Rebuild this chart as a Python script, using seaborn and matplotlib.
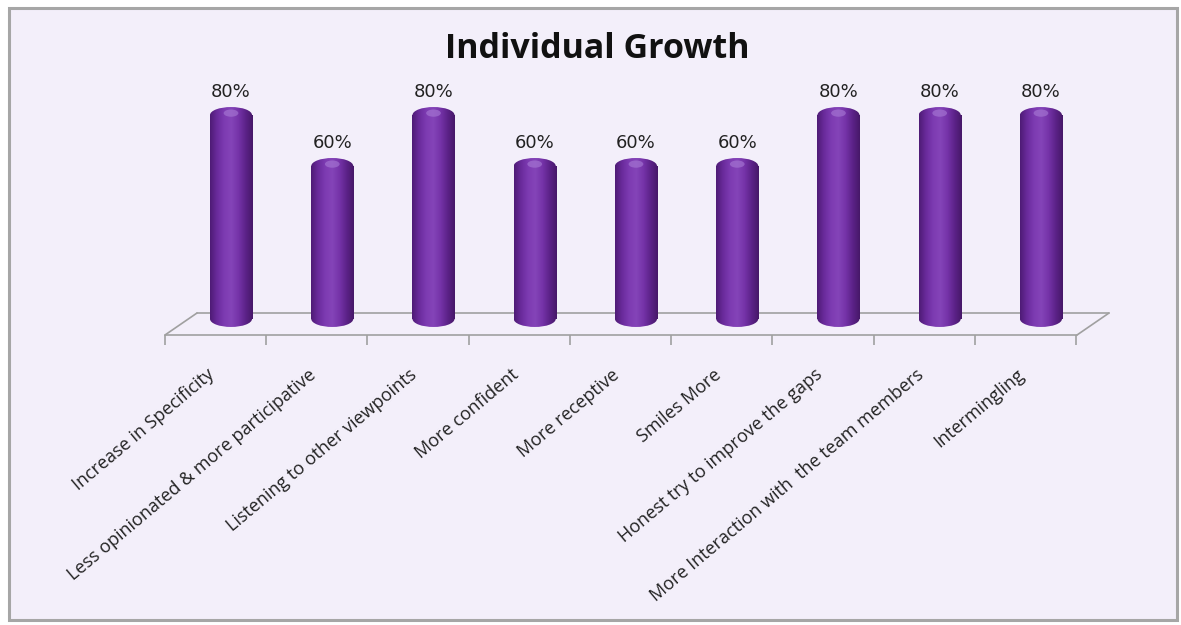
import numpy as np
import matplotlib
matplotlib.use("Agg")
import matplotlib.pyplot as plt
import seaborn as sns
from matplotlib.patches import Ellipse, Rectangle
from matplotlib.colors import LinearSegmentedColormap

categories = [
    "Increase in Specificity",
    "Less opinionated & more participative",
    "Listening to other viewpoints",
    "More confident",
    "More receptive",
    "Smiles More",
    "Honest try to improve the gaps",
    "More Interaction with  the team members",
    "Intermingling",
]
values = [80, 60, 80, 60, 60, 60, 80, 80, 80]
title = "Individual Growth"

sns.set_theme(style="white")
plt.rcParams['font.family'] = ['Open Sans', 'DejaVu Sans']

W, H = 1181, 625
fig = plt.figure(figsize=(W / 100, H / 100), dpi=100)
fig.patch.set_facecolor("white")

# chart area with border
fig.patches.append(Rectangle((8.5 / W, 1 - 620 / H), (1177 - 8.5) / W, (620 - 8) / H,
                             transform=fig.transFigure, facecolor="#F3EFFA",
                             edgecolor="#A6A6A6", linewidth=2.2, zorder=-10))

ax_left, ax_right = 165 / W, 1077 / W
ax_bottom, ax_top = 1 - 335 / H, 1 - 60 / H
ax = fig.add_axes([ax_left, ax_bottom, ax_right - ax_left, ax_top - ax_bottom])
ax.set_facecolor("none")

bar_w = 0.415
sns.barplot(x=categories, y=values, ax=ax, width=bar_w, color="#7030A0",
            saturation=1, errorbar=None)

xlo, xhi = -0.652, 8.356
ylo, yhi = -6.3, 101.6
ax.set_xlim(xlo, xhi)
ax.set_ylim(ylo, yhi)

cmap = LinearSegmentedColormap.from_list(
    "cyl", ["#4E1B75", "#6A2B9C", "#7D3BB2", "#8444B8", "#7533A8", "#5C2288", "#461868"])
grad = np.linspace(0, 1, 256).reshape(1, -1)
cap_h = 6.3

for p, v in zip(ax.patches, values):
    x0 = p.get_x()
    w = p.get_width()
    h = p.get_height()
    cx = x0 + w / 2
    p.set_facecolor("none")
    p.set_edgecolor("none")
    # bottom rounded end
    eb = Ellipse((cx, 0), w, cap_h, facecolor="none", edgecolor="none")
    ax.add_patch(eb)
    im = ax.imshow(grad, extent=[x0, x0 + w, -cap_h / 2, cap_h / 2], aspect="auto",
                   cmap=cmap, zorder=2)
    im.set_clip_path(eb)
    im2 = ax.imshow(grad, extent=[x0, x0 + w, 0, h], aspect="auto", cmap=cmap, zorder=2)
    im2.set_clip_path(p)
    # top dome
    et = Ellipse((cx, h), w, cap_h, facecolor="none", edgecolor="none")
    ax.add_patch(et)
    im3 = ax.imshow(grad, extent=[x0, x0 + w, h - cap_h / 2, h + cap_h / 2], aspect="auto",
                    cmap=cmap, zorder=3)
    im3.set_clip_path(et)
    ax.add_patch(Ellipse((cx, h + cap_h * 0.12), w * 0.35, cap_h * 0.45,
                         facecolor="#A97BD6", edgecolor="none", alpha=0.6, zorder=4))
    ax.text(cx, h + cap_h / 2 + 2.3, f"{v}%", ha="center", va="bottom",
            fontsize=13, color="#222222", family=["DejaVu Sans"], zorder=5)

ax.set_xlim(xlo, xhi)
ax.set_ylim(ylo, yhi)

# floor (3D base)
dx = 32 / 101.25
dy = 22 / 2.55
fc = "#A0A0A0"
ax.plot([xlo, xhi], [ylo, ylo], color=fc, lw=1.2, clip_on=False, zorder=1)
ax.plot([xlo + dx, xhi + dx], [ylo + dy, ylo + dy], color=fc, lw=1.2, clip_on=False, zorder=1)
ax.plot([xlo, xlo + dx], [ylo, ylo + dy], color=fc, lw=1.2, clip_on=False, zorder=1)
ax.plot([xhi, xhi + dx], [ylo, ylo + dy], color=fc, lw=1.2, clip_on=False, zorder=1)

for s in ax.spines.values():
    s.set_visible(False)

ax.set_yticks([])
ax.set_ylabel("")
ax.set_xlabel("")
ax.set_xticks([i - 0.24 for i in range(len(categories))])
ax.set_xticklabels(categories, rotation=40, ha="right", va="top",
                   rotation_mode="anchor", fontsize=13, color="#222222")
ax.set_xticks([xlo + k for k in range(len(categories) + 1)], minor=True)
ax.tick_params(axis="x", which="major", length=0, pad=22)
ax.tick_params(axis="x", which="minor", length=7, width=1.2, color=fc, direction="out",
               bottom=True)

fig.text(597 / W, 1 - 58 / H, title, ha="center", va="baseline", fontsize=24.5,
         fontweight="bold", color="#111111")

fig.savefig("out.png", dpi=100, facecolor=fig.get_facecolor())
